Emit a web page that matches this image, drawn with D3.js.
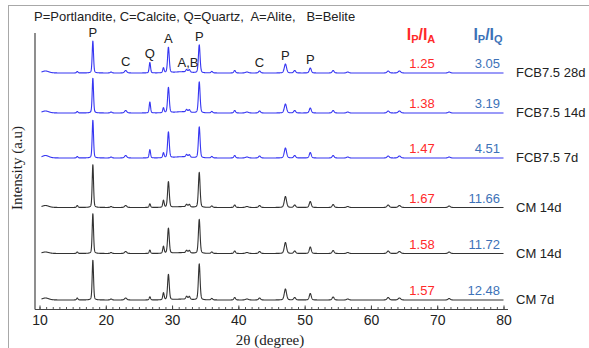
<!DOCTYPE html>
<html>
<head>
<meta charset="utf-8">
<script src="https://cdn.jsdelivr.net/npm/d3@7"></script>
<style>
  html, body { margin: 0; padding: 0; background: #fff; }
  svg { display: block; }
  text { font-family: "Liberation Sans", Arial, sans-serif; }
  .serif { font-family: "Liberation Serif", "Times New Roman", serif; }
</style>
</head>
<body>
<svg id="chart" width="589" height="348"></svg>
<script>
// Sample names, top to bottom
const seriesNames = ["FCB7.5 28d", "FCB7.5 14d", "FCB7.5 7d", "CM 14d", "CM 14d", "CM 7d"];
// Vertical stacking offset of each pattern (a.u.)
const seriesOffset = [236, 196, 151, 101.5, 55.5, 9];
// Intensity ratios printed beside each pattern
const ratioPA = ["1.25", "1.38", "1.47", "1.67", "1.58", "1.57"];
const ratioPQ = ["3.05", "3.19", "4.51", "11.66", "11.72", "12.48"];

// Reflection positions (2θ, degrees) and widths (FWHM, degrees)
const peakPos  = [10.9, 15.7, 18.05, 20.8, 23.0, 26.65, 28.7, 29.45, 31.5, 32.2, 32.6, 34.1, 36.0, 39.45, 41.3, 43.2, 47.1, 48.5, 50.85, 54.3, 56.5, 62.6, 64.3, 71.8];
const peakFWHM = [1.2, 0.25, 0.24, 0.3, 0.4, 0.24, 0.25, 0.3, 2.5, 0.3, 0.3, 0.3, 0.3, 0.3, 0.5, 0.35, 0.4, 0.35, 0.35, 0.35, 0.4, 0.4, 0.45, 0.4];

// Peak intensities (a.u.) for each sample, in the order of peakPos
const hFCB28 = [2, 1.5, 32, 1, 2.5, 10.5, 5, 25.6, 1.2, 2.5, 2.5, 28, 1.5, 2.5, 1, 2, 9, 2.5, 5, 2.5, 1, 2, 2, 1];
const hFCB14 = [2, 1.5, 35, 1, 2.5, 11, 5, 25.4, 1.2, 2.5, 2.5, 31, 1.5, 2.5, 1, 2, 9, 2.5, 5, 2.5, 1, 2, 2, 1];
const hFCB7  = [2.5, 1.5, 38, 1, 2.5, 8.4, 5, 25.9, 1.2, 2.5, 2.5, 31, 1.5, 2.5, 1, 2, 10, 2.5, 5.5, 2.5, 1, 2, 2, 1];
const hCM14a = [2, 2, 43, 1, 2, 3.7, 7, 25.7, 0.8, 2.5, 2.5, 35, 1.5, 2.5, 1, 2, 11, 2.5, 6, 3, 1, 2.5, 2, 1.5];
const hCM14b = [1.5, 1.5, 40, 1, 2, 3.4, 7, 25.3, 0.8, 2.5, 2.5, 34, 1.5, 2.5, 1, 2, 11, 2.5, 6.5, 3, 1, 2.5, 2, 1.5];
const hCM7   = [2, 2, 40, 1, 2, 3.2, 7, 25.5, 0.8, 3, 3, 36, 1.5, 2.5, 1, 2, 11, 2.5, 6.5, 3, 1, 2.5, 2, 1.5];
const seriesHeights = [hFCB28, hFCB14, hFCB7, hCM14a, hCM14b, hCM7];
const seriesColor = ["#3636f2", "#3636f2", "#3636f2", "#333333", "#333333", "#333333"];

// Phase labels above the top pattern
const phaseLabels = ["P", "C", "Q", "A", "A,B", "P", "C", "P", "P"];
const phaseAt     = [18.05, 23.0, 26.65, 29.45, 32.4, 34.1, 43.2, 47.1, 50.85];

const xTicks = [10, 20, 30, 40, 50, 60, 70, 80];

const svg = d3.select("#chart");

// outer frame (top and left edges)
svg.append("line").attr("x1", 8).attr("x2", 589).attr("y1", 5.5).attr("y2", 5.5)
  .attr("stroke", "#a8a8a8").attr("stroke-width", 1);
svg.append("line").attr("x1", 8.5).attr("x2", 8.5).attr("y1", 5).attr("y2", 348)
  .attr("stroke", "#a8a8a8").attr("stroke-width", 1);

const x = d3.scaleLinear().domain([10, 80]).range([39.5, 503.5]);
const y = d3.scaleLinear().domain([0, 276]).range([309, 33]);

// pseudo-Voigt peak profile
function profile(tt, heights) {
  let s = 0;
  for (let i = 0; i < peakPos.length; i++) {
    const d = (tt - peakPos[i]) / (peakFWHM[i] / 2);
    const lor = 1 / (1 + d * d);
    const gau = Math.exp(-Math.LN2 * d * d);
    s += heights[i] * (0.3 * lor + 0.7 * gau);
  }
  return s;
}

const grid = d3.range(10.3, 80.0001, 0.02);
const line = d3.line().x(d => x(d[0])).y(d => y(d[1]));

seriesNames.forEach((name, i) => {
  const pts = grid.map(t => [t, seriesOffset[i] + profile(t, seriesHeights[i])]);
  svg.append("path").datum(pts)
    .attr("d", line)
    .attr("fill", "none")
    .attr("stroke", seriesColor[i])
    .attr("stroke-width", 1.1)
    .attr("stroke-linejoin", "round");

  const base = y(seriesOffset[i]);
  svg.append("text").attr("x", 516).attr("y", base + 1)
    .attr("dominant-baseline", "middle")
    .attr("font-size", 13).attr("fill", "#222")
    .text(name);
  svg.append("text").attr("x", 422).attr("y", base - 8)
    .attr("text-anchor", "middle").attr("dominant-baseline", "middle")
    .attr("font-size", 13).attr("fill", "#ff2a2a")
    .text(ratioPA[i]);
  svg.append("text").attr("x", 500).attr("y", base - 8)
    .attr("text-anchor", "end").attr("dominant-baseline", "middle")
    .attr("font-size", 13).attr("fill", "#3d72b8")
    .text(ratioPQ[i]);
});

// phase labels
phaseLabels.forEach((lab, k) => {
  const t = phaseAt[k];
  const top = y(seriesOffset[0] + profile(t, seriesHeights[0]));
  svg.append("text").attr("x", x(t)).attr("y", top - 4)
    .attr("text-anchor", "middle")
    .attr("font-size", 13).attr("fill", "#222")
    .text(lab);
});

// axes
svg.append("line").attr("x1", 35).attr("x2", 35).attr("y1", 33).attr("y2", 309.5)
  .attr("stroke", "#444").attr("stroke-width", 1.2);

const xAxis = d3.axisBottom(x).tickValues(d3.range(10, 81, 1)).tickSize(-2.5).tickFormat("");
const gx = svg.append("g").attr("transform", "translate(0,309.5)").call(xAxis);
gx.select(".domain").remove();
gx.selectAll(".tick line").attr("stroke", "#555");
svg.append("line").attr("x1", 35).attr("x2", 508).attr("y1", 309.5).attr("y2", 309.5)
  .attr("stroke", "#444").attr("stroke-width", 1.2);

const gMaj = svg.append("g").attr("transform", "translate(0,309.5)")
  .call(d3.axisBottom(x).tickValues(xTicks).tickSize(-4).tickPadding(6).tickFormat(d3.format("d")));
gMaj.select(".domain").remove();
gMaj.selectAll(".tick line").attr("stroke", "#444");
gMaj.selectAll(".tick text").attr("font-size", 14).attr("fill", "#222")
  .attr("font-family", "'Liberation Sans', Arial, sans-serif");

// axis titles
svg.append("text").attr("class", "serif")
  .attr("x", 270).attr("y", 345).attr("text-anchor", "middle")
  .attr("font-size", 15).attr("fill", "#222")
  .text("2θ (degree)");
svg.append("text").attr("class", "serif")
  .attr("transform", "translate(22,168) rotate(-90)")
  .attr("text-anchor", "middle")
  .attr("font-size", 15).attr("fill", "#222")
  .text("Intensity (a.u)");

// phase key
svg.append("text").attr("x", 34).attr("y", 21)
  .attr("font-size", 13).attr("fill", "#222")
  .attr("xml:space", "preserve")
  .text("P=Portlandite, C=Calcite, Q=Quartz,  A=Alite,   B=Belite");

// ratio headers
function header(cx, sub2, color) {
  const t = svg.append("text").attr("x", cx).attr("y", 40)
    .attr("text-anchor", "middle").attr("font-size", 16)
    .attr("font-weight", "bold").attr("fill", color);
  t.append("tspan").text("I");
  t.append("tspan").attr("font-size", 11).attr("dy", 3).text("P");
  t.append("tspan").attr("dy", -3).text("/I");
  t.append("tspan").attr("font-size", 11).attr("dy", 3).text(sub2);
}
header(421, "A", "#ff2a2a");
header(488, "Q", "#3d72b8");
</script>
</body>
</html>
